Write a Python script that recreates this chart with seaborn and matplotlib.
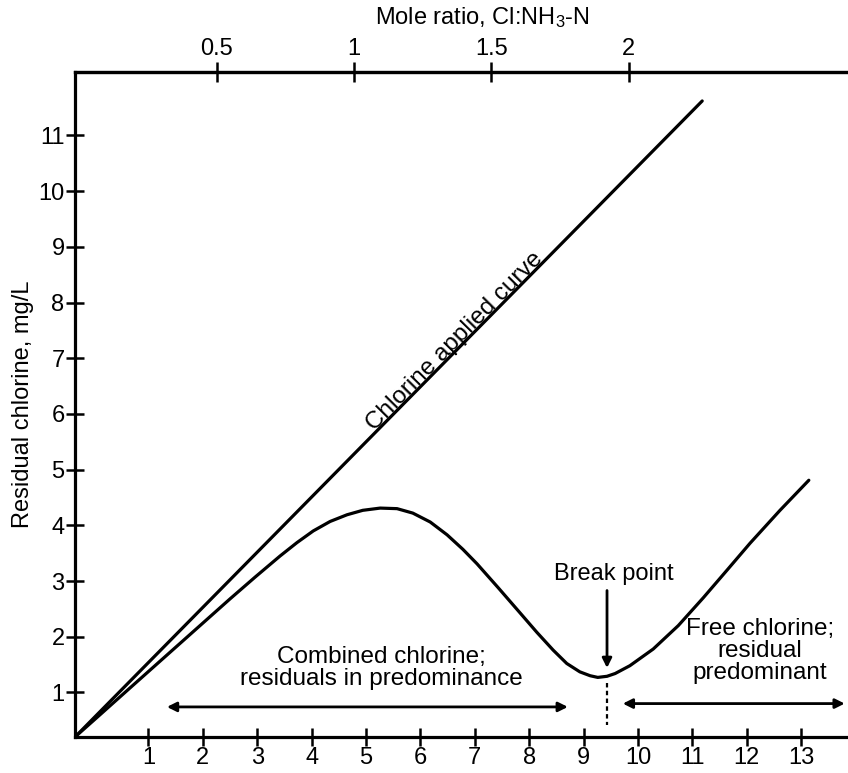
import matplotlib
matplotlib.use("Agg")
import matplotlib.pyplot as plt
import seaborn as sns

# chlorine dose (bottom axis) and residual
dose = [-0.35, 0.11, 0.66, 1.12, 1.58, 2.04, 2.50, 2.96, 3.42, 3.73, 4.03, 4.34, 4.65,
        4.94, 5.26, 5.57, 5.86, 6.18, 6.49, 6.78, 7.04, 7.43, 7.83, 8.14, 8.44, 8.69,
        8.93, 9.12, 9.26, 9.43, 9.58, 9.85, 10.28, 10.74, 11.20, 11.64, 12.06, 12.61, 13.14]
residual = [0.20, 0.60, 1.08, 1.48, 1.88, 2.28, 2.68, 3.07, 3.45, 3.69, 3.90, 4.07, 4.19,
            4.27, 4.31, 4.30, 4.22, 4.06, 3.83, 3.57, 3.31, 2.88, 2.43, 2.08, 1.76, 1.52,
            1.37, 1.30, 1.27, 1.29, 1.34, 1.48, 1.78, 2.20, 2.70, 3.20, 3.68, 4.27, 4.81]

# chlorine applied line (end points)
applied_x = [-0.35, 11.18]
applied_y = [0.20, 11.62]

dose_ticks = list(range(1, 14))
resid_ticks = list(range(1, 12))
ratio_ticks = [0.5, 1, 1.5, 2]
ratio_labels = ["0.5", "1", "1.5", "2"]

sns.set_style("ticks")
plt.rcParams["font.family"] = ["Liberation Sans", "DejaVu Sans"]
plt.rcParams["mathtext.fontset"] = "custom"
plt.rcParams["mathtext.rm"] = "Liberation Sans"
plt.rcParams["mathtext.it"] = "Liberation Sans"
for key in ["text.color", "axes.labelcolor", "xtick.color", "ytick.color", "axes.edgecolor"]:
    plt.rcParams[key] = "black"

fig = plt.figure(figsize=(8.48, 7.73), dpi=100)
ax = fig.add_axes([75 / 848, 36 / 773, 773 / 848, 665 / 773])

sns.lineplot(x=applied_x, y=applied_y, ax=ax, color="black", lw=2.3, estimator=None)
sns.lineplot(x=dose, y=residual, ax=ax, color="black", lw=2.3, estimator=None)

ax.set_xlim(-0.35, 13.86)
ax.set_ylim(0.20, 12.14)
ax.set_xticks(dose_ticks)
ax.set_xticklabels([str(t) for t in dose_ticks])
ax.set_yticks(resid_ticks)
ax.set_yticklabels([str(t) for t in resid_ticks])

for s in ["left", "bottom", "top"]:
    ax.spines[s].set_linewidth(2.3)
ax.spines["right"].set_visible(False)
ax.tick_params(axis="both", direction="inout", length=13, width=1.8, labelsize=17, pad=1)

ax.set_ylabel("Residual chlorine, mg/L", fontsize=17)
ax.yaxis.set_label_coords(-0.053, 0.5)

# top axis: mole ratio
sec = ax.secondary_xaxis("top", functions=(lambda x: (x + 0.27) / 5.05,
                                           lambda r: r * 5.05 - 0.27))
sec.set_xticks(ratio_ticks)
sec.set_xticklabels(ratio_labels)
sec.tick_params(direction="inout", length=15, width=1.8, labelsize=17, pad=1)
sec.spines["top"].set_linewidth(2.3)
fig.text(482 / 848, 1 - 18 / 773, "Mole ratio, Cl:NH$_3$-N", fontsize=17,
         ha="center", va="center")

# annotations
ax.text(6.64, 7.31, "Chlorine applied curve", rotation=45.4, fontsize=17.5,
        ha="center", va="center", rotation_mode="anchor")
ax.text(5.28, 1.44, "Combined chlorine;\nresiduals in predominance", fontsize=17.5,
        ha="center", va="center", linespacing=1.0)
ax.text(12.24, 1.74, "Free chlorine;\nresidual\npredominant", fontsize=17.5,
        ha="center", va="center", linespacing=1.0)
ax.text(9.55, 3.12, "Break point", fontsize=17, ha="center", va="center")

arrow = dict(arrowstyle="<|-|>", color="black", lw=2, mutation_scale=14, shrinkA=0, shrinkB=0)
ax.annotate("", xy=(8.71, 0.74), xytext=(1.34, 0.74), arrowprops=arrow)
ax.annotate("", xy=(13.8, 0.80), xytext=(9.72, 0.80), arrowprops=arrow, annotation_clip=False)
ax.annotate("", xy=(9.43, 1.44), xytext=(9.43, 2.83),
            arrowprops=dict(arrowstyle="-|>", color="black", lw=2, mutation_scale=14,
                            shrinkA=0, shrinkB=0))
ax.plot([9.43, 9.43], [1.17, 0.41], color="black", lw=1.6, ls=(0, (2, 1.5)))

fig.savefig("out.png", dpi=100)
